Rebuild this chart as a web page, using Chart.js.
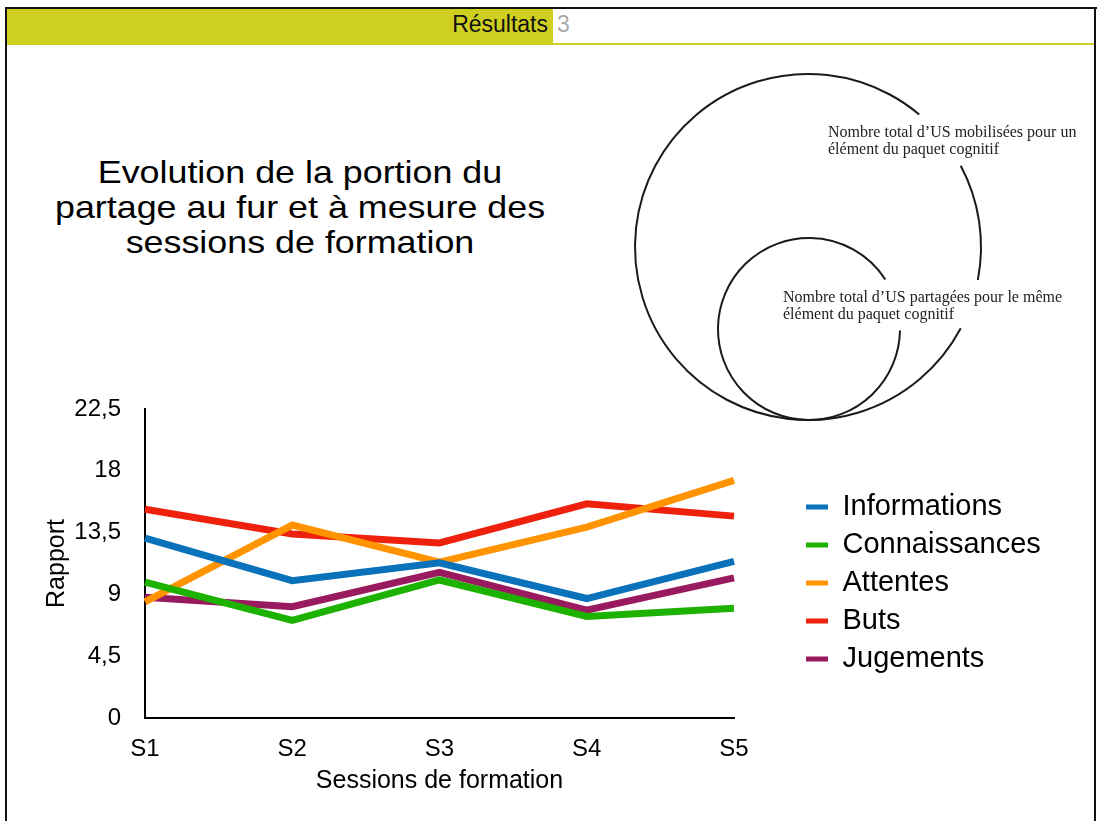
<!DOCTYPE html>
<html>
<head>
    <meta charset="utf-8">
    <title>Résultats 3</title>
    <script src="https://cdn.jsdelivr.net/npm/chart.js@4/dist/chart.umd.min.js"></script>
    <style>
        body { margin: 0; width: 1097px; height: 821px; background: #fff; position: relative; overflow: hidden;
               font-family: "Liberation Sans", Arial, sans-serif; }
        .frame-top { position: absolute; left: 5px; top: 7px; width: 1092px; height: 2px; background: #111; }
        .frame-left { position: absolute; left: 5px; top: 7px; width: 2px; height: 814px; background: #111; }
        .frame-right { position: absolute; left: 1094px; top: 7px; width: 2px; height: 814px; background: #111; }
        .header { position: absolute; left: 7px; top: 9px; width: 546px; height: 36px; background: #cfcf22; }
        .header-line { position: absolute; left: 553px; top: 43px; width: 541px; height: 2px; background: #cfcf22; }
        .header-title { position: absolute; right: 549px; top: 11px; font-size: 23px; color: #111; }
        .header-num { position: absolute; left: 557px; top: 11px; font-size: 23px; color: #aaa; }
        .title { position: absolute; left: 40px; top: 155px; width: 520px; text-align: center;
                 font-size: 32px; line-height: 35px; color: #000; transform: scaleX(1.12); }
        .note { position: absolute; font-family: "Liberation Serif", "Times New Roman", serif;
                font-size: 16px; line-height: 17px; color: #222; white-space: nowrap; }
        #circles { position: absolute; left: 600px; top: 60px; }
        #chart { position: absolute; left: 0; top: 390px; }
    </style>
</head>
<body>
    <div class="frame-top"></div>
    <div class="frame-left"></div>
    <div class="frame-right"></div>
    <div class="header"></div>
    <div class="header-line"></div>
    <div class="header-title">Résultats</div>
    <div class="header-num">3</div>

    <div class="title">Evolution de la portion du<br>partage au fur et à mesure des<br>sessions de formation</div>

    <canvas id="circles" width="420" height="380"></canvas>
    <div class="note" style="left:828px; top:123px;">Nombre total d’US mobilisées pour un<br>élément du paquet cognitif</div>
    <div class="note" style="left:783px; top:288px;">Nombre total d’US partagées pour le même<br>élément du paquet cognitif</div>

    <canvas id="chart" width="1097" height="420"></canvas>

    <script>
        // data
        const sessions = ['S1', 'S2', 'S3', 'S4', 'S5'];
        const yTickLabels = ['0', '4,5', '9', '13,5', '18', '22,5'];
        const informations = [13.1, 10.0, 11.3, 8.7, 11.4];
        const connaissances = [9.9, 7.1, 10.05, 7.4, 8.0];
        const attentes = [8.45, 14.05, 11.35, 13.9, 17.3];
        const buts = [15.2, 13.4, 12.75, 15.6, 14.7];
        const jugements = [8.8, 8.1, 10.6, 7.85, 10.2];

        // nested circles diagram (plain canvas, page coords shifted by 600,60)
        const cc = document.getElementById('circles').getContext('2d');
        cc.translate(-600, -60);
        cc.strokeStyle = '#1a1a1a';
        cc.lineWidth = 2;
        const deg = d => d * Math.PI / 180;
        cc.beginPath(); cc.arc(808, 247, 173, deg(28), deg(310)); cc.stroke();
        cc.beginPath(); cc.arc(808, 247, 173, deg(-28), deg(11)); cc.stroke();
        cc.beginPath(); cc.arc(809, 329, 91, deg(1), deg(327)); cc.stroke();

        const font = '"Liberation Sans", Arial, sans-serif';

        // move the legend next to the plot like on the slide
        const legendPlace = {
            id: 'legendPlace',
            afterLayout(chart) {
                const lg = chart.legend;
                lg.left = 797;
                lg.right = 1094;
                lg.width = lg.right - lg.left;
                const h = lg.bottom - lg.top;
                lg.top = (1166 - 390 * 2 - h) / 2;
                lg.bottom = lg.top + h;
            }
        };

        const ctx = document.getElementById('chart').getContext('2d');
        const mk = (label, data, color) => ({
            label: label,
            data: data,
            borderColor: color,
            backgroundColor: color,
            borderWidth: 7,
            pointRadius: 0,
            tension: 0
        });

        new Chart(ctx, {
            type: 'line',
            data: {
                labels: sessions,
                datasets: [
                    mk('Informations', informations, '#0a72ba'),
                    mk('Connaissances', connaissances, '#1db100'),
                    mk('Attentes', attentes, '#ff9300'),
                    mk('Buts', buts, '#ee220c'),
                    mk('Jugements', jugements, '#991a5e')
                ]
            },
            options: {
                responsive: false,
                animation: false,
                layout: { padding: { left: 38, top: 19, right: 131, bottom: 10 } },
                plugins: {
                    tooltip: { enabled: false },
                    legend: {
                        position: 'right',
                        align: 'center',
                        labels: {
                            boxWidth: 22,
                            boxHeight: 5,
                            padding: 9,
                            color: '#000',
                            font: { family: font, size: 29 },
                            generateLabels: chart =>
                                Chart.defaults.plugins.legend.labels.generateLabels(chart)
                                    .map(l => Object.assign(l, { lineWidth: 0 }))
                        }
                    }
                },
                scales: {
                    x: {
                        offset: false,
                        grid: { display: false },
                        border: { color: '#000', width: 2 },
                        ticks: { color: '#000', padding: 9, maxRotation: 0, font: { family: font, size: 24 } },
                        title: { display: true, text: 'Sessions de formation', color: '#000',
                                 padding: { top: 4, bottom: 4 }, font: { family: font, size: 25 } },
                        afterFit: s => { s.height = 82; }
                    },
                    y: {
                        min: 0,
                        max: 22.5,
                        grid: { display: false, drawTicks: true, tickLength: 20 },
                        border: { color: '#000', width: 2 },
                        ticks: {
                            stepSize: 4.5,
                            padding: 4,
                            color: '#000',
                            font: { family: font, size: 24 },
                            callback: (v, i) => yTickLabels[i]
                        },
                        title: { display: true, text: 'Rapport', color: '#000',
                                 padding: { top: 4, bottom: 4 }, font: { family: font, size: 25 } },
                        afterFit: s => { s.width = 107; }
                    }
                }
            },
            plugins: [legendPlace]
        });
    </script>
</body>
</html>
